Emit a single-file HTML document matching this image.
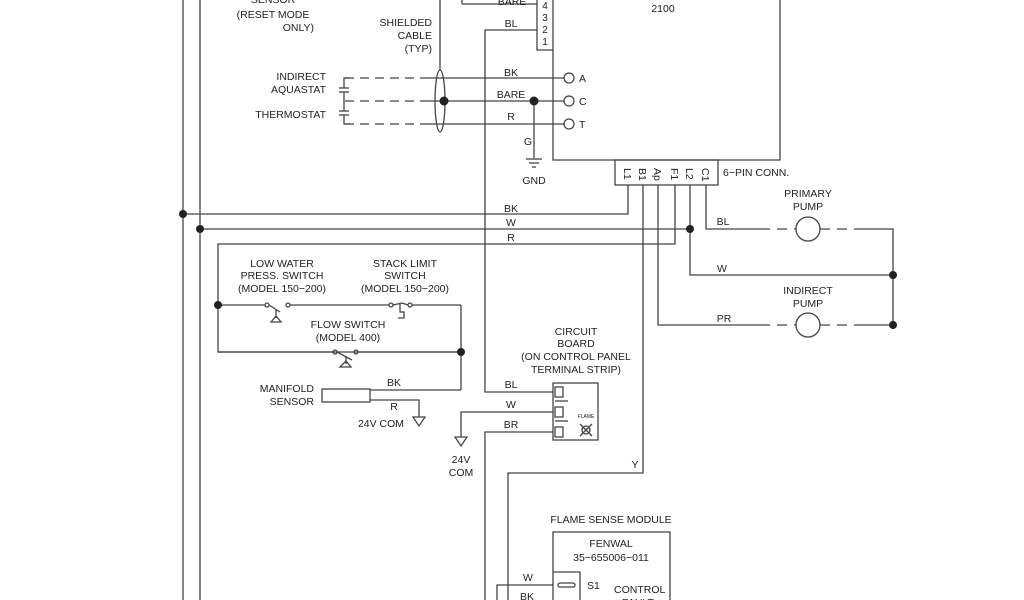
<!DOCTYPE html>
<html><head><meta charset="utf-8"><style>
html,body{margin:0;padding:0;background:#fff;}
svg{display:block;}
text{font-family:"Liberation Sans",sans-serif;font-size:10.5px;fill:#222;}
</style></head><body>
<svg width="1024" height="600" viewBox="0 0 1024 600" xmlns="http://www.w3.org/2000/svg">
<g stroke="#444" stroke-width="1.3" fill="none">
<!-- left verticals -->
<line x1="183" y1="0" x2="183" y2="600"/>
<line x1="200" y1="0" x2="200" y2="600"/>
<!-- main box -->
<polyline points="553,0 553,160 780,160 780,0"/>
<rect x="615" y="160" width="103" height="25"/>
<!-- number strip -->
<polyline points="537,0 537,50 553,50"/>
<line x1="462" y1="0" x2="462" y2="4"/>
<line x1="462" y1="4" x2="537" y2="4"/>
<polyline points="537,30 485,30 485,392 553,392"/>
<!-- shielded cable -->
<line x1="440" y1="0" x2="440" y2="70"/>
<ellipse cx="440" cy="101" rx="5" ry="31"/>
<!-- thermostat lines -->
<line x1="421" y1="78" x2="564" y2="78"/>
<line x1="421" y1="101" x2="564" y2="101"/>
<line x1="421" y1="124" x2="564" y2="124"/>
<g stroke-dasharray="9,6">
<line x1="345" y1="78" x2="421" y2="78"/>
<line x1="345" y1="101" x2="421" y2="101"/>
<line x1="345" y1="124" x2="421" y2="124"/>
</g>
<polyline points="350,78 344,78 344,88"/>
<line x1="339" y1="88" x2="349" y2="88"/>
<line x1="339" y1="92" x2="349" y2="92"/>
<line x1="344" y1="92" x2="344" y2="111"/>
<line x1="339" y1="111" x2="349" y2="111"/>
<line x1="339" y1="115" x2="349" y2="115"/>
<polyline points="344,115 344,124 350,124"/>
<circle cx="569" cy="78" r="5"/>
<circle cx="569" cy="101" r="5"/>
<circle cx="569" cy="124" r="5"/>
<line x1="534" y1="101" x2="534" y2="158"/>
<line x1="526" y1="159" x2="542" y2="159"/>
<line x1="529" y1="163" x2="539" y2="163"/>
<line x1="532" y1="167" x2="536" y2="167"/>
<!-- connector pins -->
<polyline points="628,185 628,214 183,214"/>
<polyline points="690,185 690,275 893,275"/>
<line x1="200" y1="229" x2="690" y2="229"/>
<polyline points="675,185 675,244 218,244 218,352 461,352"/>
<polyline points="706,185 706,229 760,229"/>
<polyline points="658,185 658,325 760,325"/>
<polyline points="643,185 643,473 508,473 508,600"/>
<g stroke-dasharray="10,7">
<line x1="760" y1="229" x2="796" y2="229"/>
<line x1="820" y1="229" x2="860" y2="229"/>
<line x1="760" y1="325" x2="796" y2="325"/>
<line x1="820" y1="325" x2="860" y2="325"/>
</g>
<circle cx="808" cy="229" r="12"/>
<circle cx="808" cy="325" r="12"/>
<polyline points="860,229 893,229 893,325 860,325"/>
<!-- switches -->
<line x1="218" y1="305" x2="265" y2="305"/>
<circle cx="267" cy="305" r="2"/>
<line x1="269" y1="305" x2="280" y2="312"/>
<circle cx="288" cy="305" r="2"/>
<line x1="290" y1="305" x2="389" y2="305"/>
<line x1="276" y1="310" x2="276" y2="318"/>
<path d="M271,322 L276,316 L281,322 Z"/>
<circle cx="391" cy="305" r="2"/>
<line x1="393" y1="305" x2="402" y2="303"/>
<line x1="402" y1="303" x2="408" y2="305"/>
<circle cx="410" cy="305" r="2"/>
<line x1="412" y1="305" x2="461" y2="305"/>
<polyline points="400,304 400,312 404,312 404,318 398,318"/>
<line x1="461" y1="305" x2="461" y2="390"/>
<line x1="218" y1="352" x2="333" y2="352"/>
<circle cx="335" cy="352" r="2"/>
<line x1="337" y1="352" x2="352" y2="360"/>
<circle cx="356" cy="352" r="2"/>
<line x1="358" y1="352" x2="461" y2="352"/>
<line x1="346" y1="357" x2="346" y2="364"/>
<path d="M340,367 L346,361 L351,367 Z"/>
<!-- manifold -->
<rect x="322" y="389" width="48" height="13"/>
<line x1="370" y1="390" x2="461" y2="390"/>
<polyline points="370,400 419,400 419,417"/>
<path d="M413,417 L425,417 L419,426 Z"/>
<!-- circuit board -->
<rect x="553" y="383" width="45" height="57"/>
<rect x="555" y="387" width="8" height="10"/>
<rect x="555" y="407" width="8" height="10"/>
<rect x="555" y="427" width="8" height="10"/>
<line x1="555" y1="401" x2="568" y2="401"/>
<line x1="555" y1="421" x2="568" y2="421"/>
<circle cx="586" cy="430" r="4"/>
<line x1="580" y1="424" x2="592" y2="436"/>
<line x1="592" y1="424" x2="580" y2="436"/>
<polyline points="553,412 461,412 461,437"/>
<path d="M455,437 L467,437 L461,446 Z"/>
<polyline points="553,432 485,432 485,600"/>
<!-- flame module -->
<polyline points="553,600 553,532 670,532 670,600"/>
<polyline points="553,572 580,572 580,600"/>
<polyline points="497,600 497,585 553,585"/>
<rect x="558" y="583" width="17" height="4" rx="2"/>
</g>
<g fill="#222">
<circle cx="183" cy="214" r="4"/>
<circle cx="200" cy="229" r="4"/>
<circle cx="690" cy="229" r="4"/>
<circle cx="893" cy="275" r="4"/>
<circle cx="893" cy="325" r="4"/>
<circle cx="218" cy="305" r="4"/>
<circle cx="461" cy="352" r="4"/>
<circle cx="444" cy="101" r="4.5"/>
<circle cx="534" cy="101" r="4.5"/>
</g>
<g>
<text x="273" y="3" text-anchor="middle">SENSOR</text>
<text x="273" y="18" text-anchor="middle">(RESET MODE</text>
<text x="314" y="31" text-anchor="end">ONLY)</text>
<text x="432" y="26" text-anchor="end">SHIELDED</text>
<text x="432" y="39" text-anchor="end">CABLE</text>
<text x="432" y="52" text-anchor="end">(TYP)</text>
<text x="512" y="5" text-anchor="middle">BARE</text>
<text x="511" y="27" text-anchor="middle">BL</text>
<text x="545" y="9" text-anchor="middle" style="font-size:10px">4</text>
<text x="545" y="21" text-anchor="middle" style="font-size:10px">3</text>
<text x="545" y="33" text-anchor="middle" style="font-size:10px">2</text>
<text x="545" y="45" text-anchor="middle" style="font-size:10px">1</text>
<text x="663" y="12" text-anchor="middle">2100</text>
<text x="326" y="80" text-anchor="end">INDIRECT</text>
<text x="326" y="93" text-anchor="end">AQUASTAT</text>
<text x="326" y="118" text-anchor="end">THERMOSTAT</text>
<text x="511" y="76" text-anchor="middle">BK</text>
<text x="511" y="98" text-anchor="middle">BARE</text>
<text x="511" y="120" text-anchor="middle">R</text>
<text x="579" y="82">A</text>
<text x="579" y="105">C</text>
<text x="579" y="128">T</text>
<text x="528" y="145" text-anchor="middle">G</text>
<text x="534" y="184" text-anchor="middle">GND</text>
<text x="723" y="176">6−PIN CONN.</text>
<g style="font-size:9px">
<text transform="translate(624,168) rotate(90)">L1</text>
<text transform="translate(639,168) rotate(90)">B1</text>
<text transform="translate(654,168) rotate(90)">Ap</text>
<text transform="translate(671,168) rotate(90)">F1</text>
<text transform="translate(686,168) rotate(90)">L2</text>
<text transform="translate(702,168) rotate(90)">C1</text>
</g>
<text x="808" y="197" text-anchor="middle">PRIMARY</text>
<text x="808" y="210" text-anchor="middle">PUMP</text>
<text x="808" y="294" text-anchor="middle">INDIRECT</text>
<text x="808" y="307" text-anchor="middle">PUMP</text>
<text x="723" y="225" text-anchor="middle">BL</text>
<text x="722" y="272" text-anchor="middle">W</text>
<text x="724" y="322" text-anchor="middle">PR</text>
<text x="511" y="212" text-anchor="middle">BK</text>
<text x="511" y="226" text-anchor="middle">W</text>
<text x="511" y="241" text-anchor="middle">R</text>
<text x="282" y="267" text-anchor="middle">LOW WATER</text>
<text x="282" y="279" text-anchor="middle">PRESS. SWITCH</text>
<text x="282" y="292" text-anchor="middle">(MODEL 150−200)</text>
<text x="405" y="267" text-anchor="middle">STACK LIMIT</text>
<text x="405" y="279" text-anchor="middle">SWITCH</text>
<text x="405" y="292" text-anchor="middle">(MODEL 150−200)</text>
<text x="348" y="328" text-anchor="middle">FLOW SWITCH</text>
<text x="348" y="341" text-anchor="middle">(MODEL 400)</text>
<text x="314" y="392" text-anchor="end">MANIFOLD</text>
<text x="314" y="405" text-anchor="end">SENSOR</text>
<text x="394" y="386" text-anchor="middle">BK</text>
<text x="394" y="410" text-anchor="middle">R</text>
<text x="381" y="427" text-anchor="middle">24V COM</text>
<text x="576" y="335" text-anchor="middle">CIRCUIT</text>
<text x="576" y="347" text-anchor="middle">BOARD</text>
<text x="576" y="360" text-anchor="middle">(ON CONTROL PANEL</text>
<text x="576" y="373" text-anchor="middle">TERMINAL STRIP)</text>
<text x="511" y="388" text-anchor="middle">BL</text>
<text x="511" y="408" text-anchor="middle">W</text>
<text x="511" y="428" text-anchor="middle">BR</text>
<text x="586" y="418" text-anchor="middle" style="font-size:5px">FLAME</text>
<text x="461" y="463" text-anchor="middle">24V</text>
<text x="461" y="476" text-anchor="middle">COM</text>
<text x="635" y="468" text-anchor="middle">Y</text>
<text x="611" y="523" text-anchor="middle">FLAME SENSE MODULE</text>
<text x="611" y="547" text-anchor="middle">FENWAL</text>
<text x="611" y="561" text-anchor="middle">35−655006−011</text>
<text x="528" y="581" text-anchor="middle">W</text>
<text x="527" y="600" text-anchor="middle">BK</text>
<text x="587" y="589">S1</text>
<text x="614" y="593">CONTROL</text>
<text x="622" y="606">FAULT</text>
</g>
</svg>
</body></html>
